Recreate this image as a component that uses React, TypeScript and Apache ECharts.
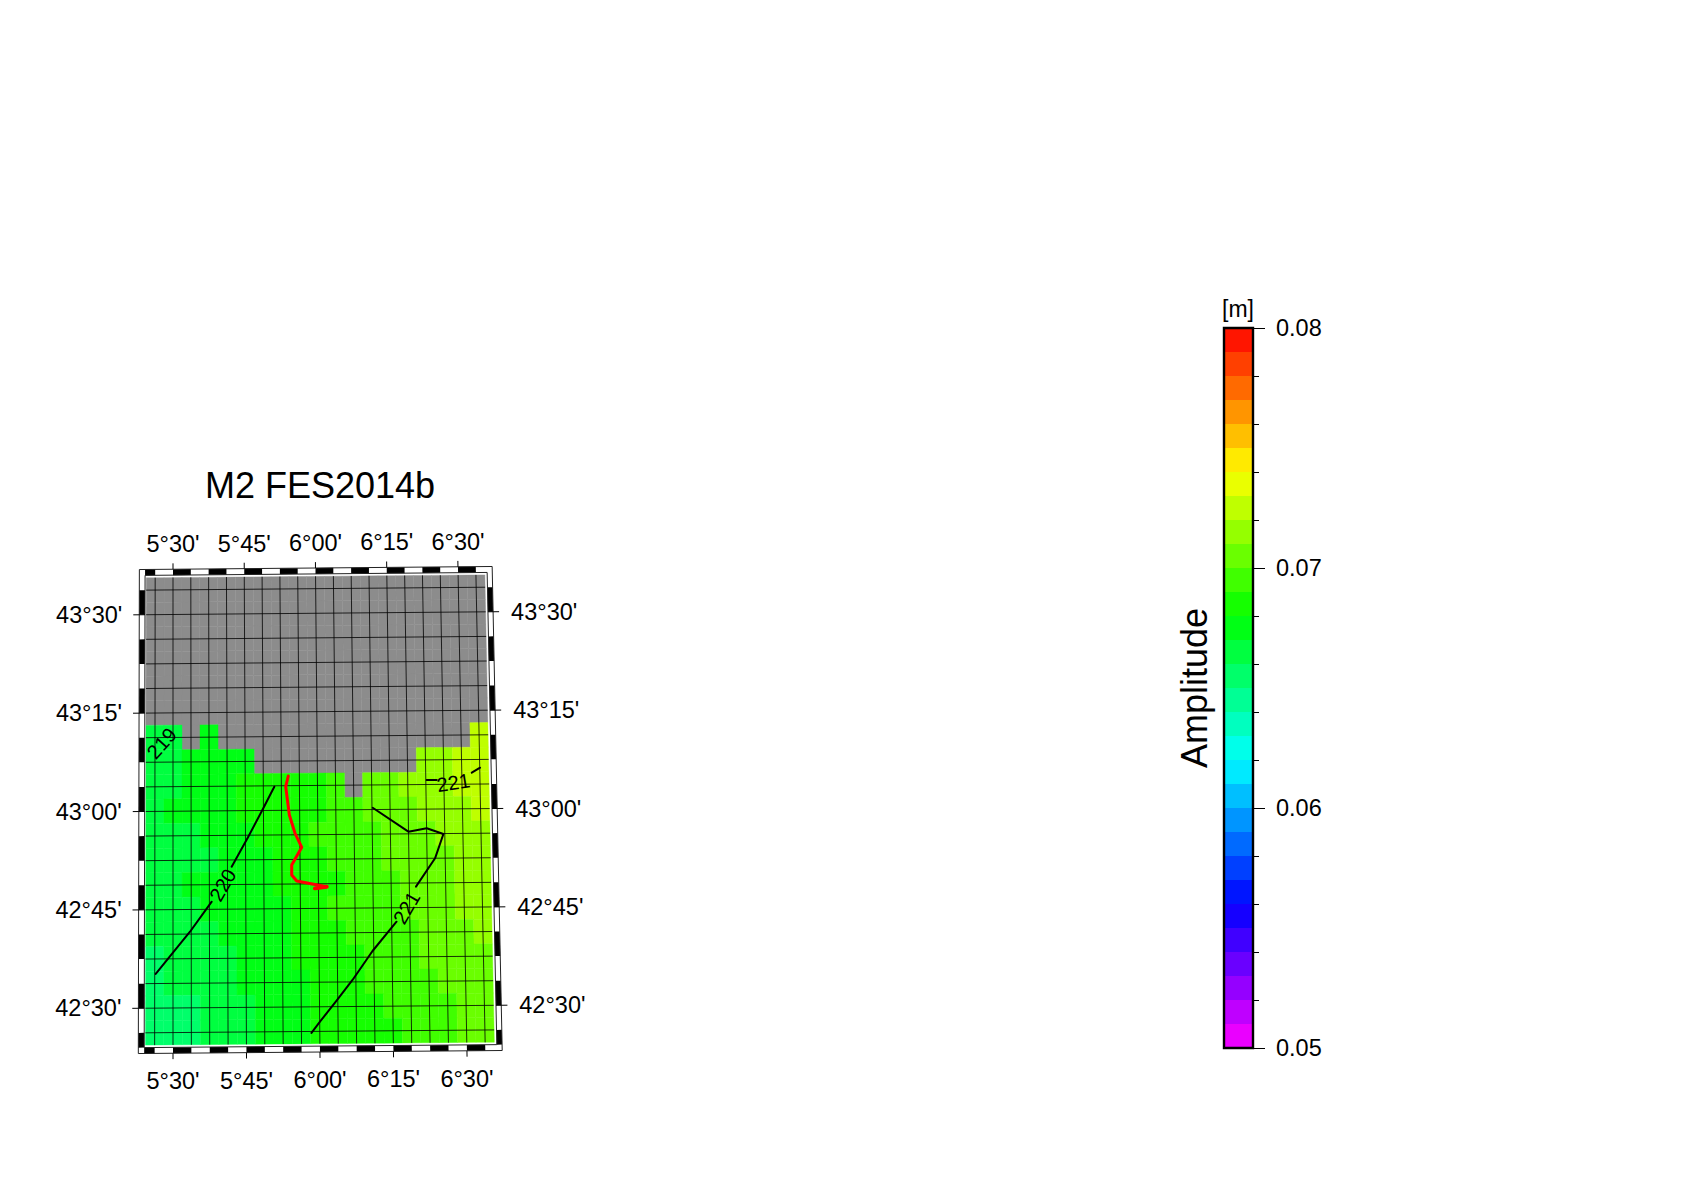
import React, { useEffect, useRef } from "react";
import * as echarts from "echarts";

const FONT = "Liberation Sans";
const BLACK = "#000000";
const LAND = "#8c8c8c";

// 1/16 degree model grid
const lons = [5.4375, 5.5, 5.5625, 5.625, 5.6875, 5.75, 5.8125, 5.875, 5.9375, 6, 6.0625, 6.125, 6.1875, 6.25, 6.3125, 6.375, 6.4375, 6.5, 6.5625];
const lats = [43.5625, 43.5, 43.4375, 43.375, 43.3125, 43.25, 43.1875, 43.125, 43.0625, 43, 42.9375, 42.875, 42.8125, 42.75, 42.6875, 42.625, 42.5625, 42.5, 42.4375];

const _ = null;
const allLand = [_, _, _, _, _, _, _, _, _, _, _, _, _, _, _, _, _, _, _];
// amplitude in mm, row by row from the north; null = land
const amplitudeMm: (number | null)[][] = [
  allLand, allLand, allLand, allLand, allLand, allLand,
  [66.5, 66.5, _, 67.5, _, _, _, _, _, _, _, _, _, _, _, _, _, _, 72.5],
  [66.5, 66.5, 67.5, 67.5, 67.5, 67.5, _, _, _, _, _, _, _, _, _, 71.5, 71.5, 72.5, 72.5],
  [66.5, 66.5, 67.5, 67.5, 67.5, 68.5, 68.5, 68.5, 68.5, 68.5, 69.5, _, 70.5, 70.5, 71.5, 71.5, 71.5, 72.5, 72.5],
  [66.5, 67.5, 67.5, 67.5, 67.5, 68.5, 68.5, 68.5, 68.5, 68.5, 69.5, 69.5, 70.5, 70.5, 70.5, 71.5, 71.5, 71.5, 72.5],
  [66.5, 66.5, 66.5, 67.5, 67.5, 67.5, 68.5, 68.5, 68.5, 69.5, 69.5, 69.5, 69.5, 70.5, 70.5, 70.5, 71.5, 71.5, 71.5],
  [66.5, 66.5, 66.5, 66.5, 67.5, 67.5, 67.5, 68.5, 68.5, 68.5, 69.5, 69.5, 69.5, 70.5, 70.5, 70.5, 70.5, 71.5, 71.5],
  [66.5, 66.5, 67.5, 67.5, 67.5, 67.5, 67.5, 68.5, 68.5, 68.5, 68.5, 69.5, 69.5, 69.5, 70.5, 70.5, 70.5, 71.5, 71.5],
  [66.5, 66.5, 66.5, 67.5, 67.5, 67.5, 67.5, 67.5, 68.5, 68.5, 69.5, 69.5, 69.5, 69.5, 70.5, 70.5, 70.5, 71.5, 71.5],
  [66.5, 66.5, 66.5, 66.5, 67.5, 67.5, 67.5, 67.5, 68.5, 68.5, 68.5, 69.5, 69.5, 69.5, 69.5, 70.5, 70.5, 70.5, 71.5],
  [65.5, 66.5, 66.5, 66.5, 66.5, 67.5, 67.5, 67.5, 68.5, 68.5, 68.5, 68.5, 69.5, 69.5, 69.5, 70.5, 70.5, 70.5, 70.5],
  [65.5, 66.5, 66.5, 66.5, 66.5, 67.5, 67.5, 67.5, 67.5, 68.5, 68.5, 68.5, 69.5, 69.5, 69.5, 69.5, 70.5, 70.5, 70.5],
  [65.5, 65.5, 65.5, 66.5, 66.5, 66.5, 67.5, 67.5, 67.5, 68.5, 68.5, 68.5, 68.5, 69.5, 69.5, 69.5, 69.5, 70.5, 70.5],
  [65.5, 65.5, 65.5, 66.5, 66.5, 66.5, 67.5, 67.5, 67.5, 68.5, 68.5, 68.5, 68.5, 68.5, 69.5, 69.5, 69.5, 70.5, 70.5],
];

// Co-tidal phase contours (lon, lat), broken at their labels
const contour220a = [[5.8505, 43.0602], [5.812, 43.0056], [5.7597, 42.9337], [5.702, 42.8578]];
const contour220b = [[5.633, 42.7693], [5.5583, 42.6935], [5.4409, 42.5868]];
const contour221a = [[6.19, 43.0047], [6.312, 42.943], [6.3754, 42.9513], [6.4327, 42.9364], [6.4025, 42.8748], [6.3353, 42.8031]];
const contour221b = [[6.2667, 42.7145], [6.1832, 42.6406], [6.1135, 42.5674], [6.0597, 42.5168], [6.001, 42.4621], [5.9717, 42.4336]];
const contour221c = [[6.378, 43.0739], [6.4128, 43.0737]];
const contour221d = [[6.5346, 43.0916], [6.5637, 43.1041]];
const contours = [contour220a, contour220b, contour221a, contour221b, contour221c, contour221d];

// Red section line
const section = [[5.8991, 43.0871], [5.89, 43.06], [5.9019, 42.988], [5.921, 42.9414], [5.9438, 42.9056], [5.9087, 42.861], [5.9085, 42.8355], [5.9255, 42.82], [6.0284, 42.805]];
const sectionEnd = [[5.988, 42.801], [6.0284, 42.805]];

const contourLabelTexts = ["219", "220", "221", "221"];
const contourLabelPoints = [[5.4608, 43.1729, 48], [5.671, 42.8115, 60], [6.3018, 42.7499, 60], [6.4705, 43.0664, 9]];

// Tick labels
const lonTicks = [5.5, 5.75, 6, 6.25, 6.5];
const lonTickLabels = ["5°30'", "5°45'", "6°00'", "6°15'", "6°30'"];
const latTicks = [43.5, 43.25, 43, 42.75, 42.5];
const latTickLabels = ["43°30'", "43°15'", "43°00'", "42°45'", "42°30'"];

// Colour bar
const barMin = 0.05;
const barMax = 0.08;
const barStep = 0.01;
const barLevels = 30;

// Frame of the map
const frameW = 5.382, frameE = 6.62, frameS = 42.385, frameN = 43.615;
const innerW = 5.402, innerE = 6.602, innerS = 42.4, innerN = 43.6;
const half = 1 / 32;

// Slightly oblique map projection, expressed in the plot axes' units
function project(lon: number, lat: number): [number, number] {
  const k = 285 + (43.61 - lat) * 7.3;
  return [5.5 + ((lon - 5.5) * k) / 290, lat + (lon - 5.5) * 0.00623];
}

function levelColor(level: number): string {
  const hue = 295 - 10 * level;
  const f = (n: number) => {
    const k = (n + hue / 60) % 6;
    return Math.round(255 * (1 - Math.max(0, Math.min(k, 4 - k, 1))));
  };
  return `rgb(${f(5)},${f(3)},${f(1)})`;
}
const colorOfMm = (mm: number) => levelColor(Math.floor(mm - 50));

const seaCells: number[][] = [];
const landCells: number[][] = [];
amplitudeMm.forEach((row, r) =>
  row.forEach((v, c) => {
    if (v === null) landCells.push([lons[c], lats[r]]);
    else seaCells.push([lons[c], lats[r], v]);
  })
);

function quad(api: any, w: number, e: number, s: number, n: number) {
  return [project(w, n), project(e, n), project(e, s), project(w, s)].map((p) => api.coord(p));
}

function cellItem(fill: (api: any) => string) {
  return (_p: any, api: any) => {
    const lon = api.value(0), lat = api.value(1);
    const c = fill(api);
    return {
      type: "polygon",
      shape: { points: quad(api, lon - half, lon + half, lat - half, lat + half) },
      style: { fill: c, stroke: c, lineWidth: 0.4 },
    };
  };
}

function segItem(width: number) {
  return (_p: any, api: any) => {
    const a = api.coord(project(api.value(0), api.value(1)));
    const b = api.coord(project(api.value(2), api.value(3)));
    return {
      type: "line",
      shape: { x1: a[0], y1: a[1], x2: b[0], y2: b[1] },
      style: { stroke: BLACK, lineWidth: width },
    };
  };
}

const graticule: number[][] = [
  ...lons.map((lon) => [lon, innerS + 0.006, lon, innerN - 0.006]),
  ...lats.map((lat) => [innerW + 0.004, lat, innerE - 0.008, lat]),
];

const tickSegs: number[][] = [
  ...lonTicks.map((lon) => [lon, frameN, lon, frameN + 0.015]),
  ...lonTicks.map((lon) => [lon, frameS, lon, frameS - 0.015]),
  ...latTicks.map((lat) => [frameW, lat, frameW - 0.021, lat]),
  ...latTicks.map((lat) => [frameE, lat, frameE + 0.021, lat]),
  ...latTicks.map((lat) => [innerW, lat, frameW, lat]),
  ...latTicks.map((lat) => [innerE, lat, frameE, lat]),
];

// black checker pieces: [w, e, s, n]
const checks: number[][] = [];
for (let n = -1; n < 10; n++) {
  const a = 5.5 + n / 8;
  const w = Math.max(a, innerW), e = Math.min(a + 1 / 16, innerE);
  if (e > w) {
    checks.push([w, e, innerN, frameN]);
    checks.push([w, e, frameS, innerS]);
  }
}
for (let n = -1; n < 10; n++) {
  const a = 43.5 - n / 8;
  const s = Math.max(a, innerS), t = Math.min(a + 1 / 16, innerN);
  if (t > s) {
    checks.push([frameW, innerW, s, t]);
    checks.push([innerE, frameE, s, t]);
  }
}

const frames = [[frameW, frameE, frameS, frameN], [innerW, innerE, innerS, innerN]];

const lonLabelRows = [
  ...lonTicks.map((lon, i) => ({ lon, lat: frameN, dx: 0, dy: -25, text: lonTickLabels[i], align: "center" })),
  ...lonTicks.map((lon, i) => ({ lon, lat: frameS, dx: 0, dy: 28, text: lonTickLabels[i], align: "center" })),
  ...latTicks.map((lat, i) => ({ lon: frameW, lat, dx: -17, dy: 0, text: latTickLabels[i], align: "right" })),
  ...latTicks.map((lat, i) => ({ lon: frameE, lat, dx: 18, dy: 0, text: latTickLabels[i], align: "left" })),
];

function buildOption(): any {
  const onMap = { coordinateSystem: "cartesian2d", xAxisIndex: 0, yAxisIndex: 0, silent: true };
  const lineOf = (name: string, pts: number[][], color: string, width: number, z: number) => ({
    ...onMap,
    type: "line",
    name,
    data: pts.map(([a, b]) => project(a, b)),
    showSymbol: false,
    symbol: "none",
    clip: false,
    z,
    lineStyle: { color, width, cap: "round", join: "round" },
  });
  const levels = Array.from({ length: barLevels }, (_v, i) => [0, barMin + (i * (barMax - barMin)) / barLevels, i]);

  return {
    animation: false,
    backgroundColor: "#ffffff",
    title: {
      text: "M2 FES2014b",
      left: 320,
      top: 467,
      textAlign: "center",
      padding: 0,
      textStyle: { fontFamily: FONT, fontSize: 36, fontWeight: "normal", color: BLACK },
    },
    grid: [
      { left: 136.75, top: 565.31, width: 398.75, height: 491.875, show: false },
      { left: 1224, top: 328, width: 29, height: 720, show: false },
    ],
    xAxis: [
      { type: "value", gridIndex: 0, min: 5.375, max: 6.75, show: false },
      { type: "value", gridIndex: 1, min: 0, max: 1, show: false },
    ],
    yAxis: [
      { type: "value", gridIndex: 0, min: 42.375, max: 43.625, show: false },
      {
        type: "value",
        gridIndex: 1,
        position: "right",
        min: barMin,
        max: barMax,
        interval: barStep,
        splitLine: { show: false },
        axisLine: { show: true, onZero: false, lineStyle: { color: BLACK, width: 2 } },
        axisTick: { show: true, length: 12, lineStyle: { color: BLACK, width: 1 } },
        minorTick: { show: true, splitNumber: 5, length: 6, lineStyle: { color: BLACK, width: 1 } },
        axisLabel: {
          show: true,
          margin: 23,
          padding: [2, 0, 0, 0],
          formatter: (v: number) => v.toFixed(2),
          fontFamily: FONT,
          fontSize: 23.5,
          color: BLACK,
        },
      },
    ],
    graphic: [
      {
        type: "text",
        x: 1238,
        y: 309,
        style: { text: "[m]", fontFamily: FONT, fontSize: 23, fill: BLACK, align: "center", verticalAlign: "middle" },
      },
      {
        type: "text",
        x: 1194,
        y: 688,
        rotation: Math.PI / 2,
        style: { text: "Amplitude", fontFamily: FONT, fontSize: 36, fill: BLACK, align: "center", verticalAlign: "middle" },
      },
      {
        type: "rect",
        z: 100,
        shape: { x: 1224, y: 328, width: 29, height: 720 },
        style: { fill: "none", stroke: BLACK, lineWidth: 2.4 },
      },
    ],
    series: [
      { ...onMap, type: "custom", name: "land", z: 2, data: landCells, renderItem: cellItem(() => LAND) },
      {
        ...onMap,
        type: "custom",
        name: "amplitude",
        z: 2,
        data: seaCells,
        renderItem: cellItem((api) => colorOfMm(api.value(2))),
      },
      { ...onMap, type: "custom", name: "graticule", z: 3, data: graticule, renderItem: segItem(0.8) },
      ...contours.map((c, i) => lineOf(`contour${i}`, c, BLACK, 2, 4)),
      lineOf("section", section, "#ff0000", 3, 5),
      lineOf("sectionEnd", sectionEnd, "#ff0000", 4, 5),
      {
        ...onMap,
        type: "custom",
        name: "contourLabels",
        z: 6,
        data: contourLabelPoints,
        renderItem: (p: any, api: any) => {
          const a = api.coord(project(api.value(0), api.value(1)));
          return {
            type: "text",
            x: a[0],
            y: a[1],
            rotation: (api.value(2) * Math.PI) / 180,
            style: {
              text: contourLabelTexts[p.dataIndex],
              fontFamily: FONT,
              fontSize: 20,
              fill: BLACK,
              align: "center",
              verticalAlign: "middle",
            },
          };
        },
      },
      {
        ...onMap,
        type: "custom",
        name: "checker",
        z: 7,
        data: checks,
        renderItem: (_p: any, api: any) => ({
          type: "polygon",
          shape: { points: quad(api, api.value(0), api.value(1), api.value(2), api.value(3)) },
          style: { fill: BLACK },
        }),
      },
      {
        ...onMap,
        type: "custom",
        name: "frame",
        z: 8,
        data: frames,
        renderItem: (_p: any, api: any) => ({
          type: "polygon",
          shape: { points: quad(api, api.value(0), api.value(1), api.value(2), api.value(3)) },
          style: { fill: "none", stroke: "#222222", lineWidth: 1 },
        }),
      },
      { ...onMap, type: "custom", name: "ticks", z: 8, data: tickSegs, renderItem: segItem(1) },
      {
        ...onMap,
        type: "custom",
        name: "tickLabels",
        z: 8,
        data: lonLabelRows.map((r) => [r.lon, r.lat]),
        renderItem: (p: any, api: any) => {
          const r = lonLabelRows[p.dataIndex];
          const a = api.coord(project(api.value(0), api.value(1)));
          return {
            type: "text",
            x: a[0] + r.dx,
            y: a[1] + r.dy,
            style: { text: r.text, fontFamily: FONT, fontSize: 23.5, fill: BLACK, align: r.align, verticalAlign: "middle" },
          };
        },
      },
      {
        type: "custom",
        name: "colorbar",
        coordinateSystem: "cartesian2d",
        xAxisIndex: 1,
        yAxisIndex: 1,
        silent: true,
        z: 2,
        data: levels,
        renderItem: (_p: any, api: any) => {
          const v = api.value(1);
          const bottom = api.coord([0, v]);
          const top = api.coord([1, v + (barMax - barMin) / barLevels]);
          return {
            type: "rect",
            shape: { x: bottom[0], y: top[1], width: top[0] - bottom[0], height: bottom[1] - top[1] },
            style: { fill: levelColor(api.value(2)) },
          };
        },
      },
    ],
  };
}

export default function App() {
  const ref = useRef<HTMLDivElement>(null);
  useEffect(() => {
    const chart = echarts.init(ref.current!, undefined, { renderer: "svg" });
    chart.setOption(buildOption());
    return () => chart.dispose();
  }, []);
  return <div ref={ref} style={{ position: "absolute", left: 0, top: 0, width: 1684, height: 1190 }} />;
}
